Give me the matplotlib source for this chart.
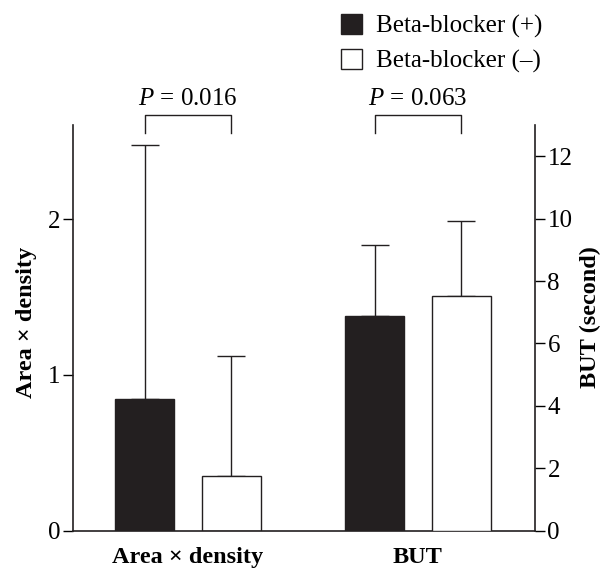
import matplotlib
matplotlib.use("Agg")
import matplotlib.pyplot as plt
from matplotlib.patches import Patch
import numpy as np

plt.rcParams['font.family'] = ['Liberation Serif', 'DejaVu Serif']
plt.rcParams['mathtext.fontset'] = 'custom'
plt.rcParams['mathtext.rm'] = 'Liberation Serif'
plt.rcParams['mathtext.it'] = 'Liberation Serif:italic'

categories = ["Area × density", "BUT"]
series = ["Beta-blocker (+)", "Beta-blocker (–)"]
area_means = [0.846, 0.353]
area_sd = [1.631, 0.769]
but_means = [6.89, 7.53]
but_sd = [2.26, 2.38]
p_values = ["0.016", "0.063"]
left_ticks = [0, 1, 2]
right_ticks = [0, 2, 4, 6, 8, 10, 12]

fig = plt.figure(figsize=(6.03, 5.69), dpi=100)
ax = fig.add_axes([73/603, 1-530.7/569, (535-73)/603, (530.7-125)/569])
ax2 = ax.twinx()

off = 0.188
w = 0.257
colors = ["#231f20", "white"]
x = np.arange(len(categories))

for i in range(2):
    xi = x[0] + (-off if i == 0 else off)
    ax.bar(xi, area_means[i], width=w, color=colors[i], edgecolor="#231f20", linewidth=1.0, zorder=2)
    ax.errorbar(xi, area_means[i], yerr=[[0], [area_sd[i]]], fmt='none', ecolor="#231f20",
                elinewidth=1.0, capsize=10, capthick=1.0, zorder=1)
    xj = x[1] + (-off if i == 0 else off)
    ax2.bar(xj, but_means[i], width=w, color=colors[i], edgecolor="#231f20", linewidth=1.0, zorder=2)
    ax2.errorbar(xj, but_means[i], yerr=[[0], [but_sd[i]]], fmt='none', ecolor="#231f20",
                 elinewidth=1.0, capsize=10, capthick=1.0, zorder=1)

ax.set_xlim(-0.5, 1.509)
ax.set_ylim(0, 2.605)
ax2.set_ylim(0, 13.0)

ax.set_yticks(left_ticks)
ax2.set_yticks(right_ticks)
ax.set_xticks(x)
ax.set_xticklabels(categories, fontweight='bold', fontsize=17.5)
ax.tick_params(axis='x', length=0, pad=12)
ax.tick_params(axis='y', direction='out', length=7, width=1.0, labelsize=18, pad=2)
ax2.tick_params(axis='y', direction='out', length=7, width=1.0, labelsize=18, pad=2)

for a in (ax, ax2):
    a.spines['top'].set_visible(False)
    for s in a.spines.values():
        s.set_linewidth(1.2)
        s.set_color("#231f20")
ax.spines['right'].set_visible(False)
ax2.spines['left'].set_visible(False)
ax2.spines['bottom'].set_visible(False)

ax.set_ylabel("Area × density", fontweight='bold', fontsize=17.5, labelpad=8)
ax2.set_ylabel("BUT (second)", fontweight='bold', fontsize=17.5, labelpad=5)
ax.yaxis.label.set_y(0.514)
ax2.yaxis.label.set_y(0.527)

# significance brackets (in left-axis units)
yb0, yb1 = 2.552, 2.670
for g in range(2):
    x0, x1 = x[g] - off, x[g] + off
    ax.plot([x0, x0, x1, x1], [yb0, yb1, yb1, yb0], color="#231f20", lw=1.0, clip_on=False)
    ax.text((x0 + x1) / 2, 2.70, r"$P$ = " + p_values[g], ha='center', va='bottom',
            fontsize=18, clip_on=False)

handles = [Patch(facecolor=colors[0], edgecolor="#231f20", linewidth=1.0),
           Patch(facecolor=colors[1], edgecolor="#231f20", linewidth=1.0)]
fig.legend(handles, series, loc='upper left', bbox_to_anchor=(327/603, 1.0),
           frameon=False, fontsize=18, handlelength=0.85, handleheight=0.85,
           handletextpad=0.55, labelspacing=0.45, borderaxespad=0.15)

fig.savefig("out.png", dpi=100)
